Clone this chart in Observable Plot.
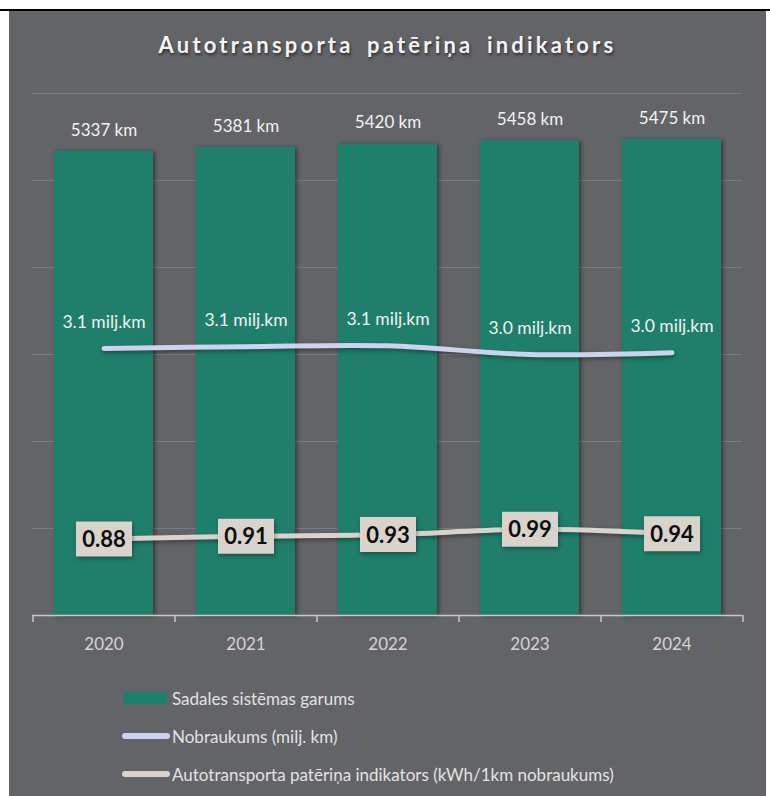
<!DOCTYPE html>
<html>
<head>
<meta charset="utf-8">
<script src="https://cdn.jsdelivr.net/npm/d3@7"></script>
<script src="https://cdn.jsdelivr.net/npm/@observablehq/plot@0.6"></script>
<style>
html,body{margin:0;padding:0;background:#fff;}
body{width:770px;height:796px;overflow:hidden;position:relative;font-family:Lato,"Open Sans",sans-serif;}
#topline{position:absolute;left:0;top:9px;width:770px;height:2px;background:#000;}
#panel{position:absolute;left:9px;top:11px;width:757px;height:785px;background:#636468;}
#title{height:65px;box-sizing:border-box;padding-top:22px;line-height:24px;text-align:center;color:#f4f4f4;font-size:22px;font-weight:700;letter-spacing:3.2px;word-spacing:5px;text-shadow:1px 2px 3px rgba(0,0,0,0.55);}
#chart svg{display:block;background:transparent;}
#legend{padding-top:9px;padding-left:113px;}
.item{height:38px;display:flex;align-items:center;color:#e2e2e2;font-size:17px;}
.sw{display:inline-block;margin-right:5px;}
.sw.rect{width:44px;height:12px;margin-left:1px;margin-right:5px;}
.sw.line{width:48px;height:6px;border-radius:3px;margin-right:2px;}
g[aria-label="bar"] rect{filter:drop-shadow(2px 1px 2px rgba(0,0,0,0.45));}
g[aria-label="line"] path{filter:drop-shadow(1px 2px 2px rgba(0,0,0,0.4));}
g[aria-label="dot"] path{filter:drop-shadow(1px 2px 2px rgba(0,0,0,0.35));}
</style>
</head>
<body>
<div id="topline"></div>
<div id="panel">
  <div id="title"></div>
  <div id="chart"></div>
  <div id="legend"></div>
</div>
<script>
// ---- data ----
const titleText = "Autotransporta patēriņa indikators";
const years = ["2020", "2021", "2022", "2023", "2024"];
const networkLengthKm = [5337, 5381, 5420, 5458, 5475];
const mileageMlnKm = [3.07, 3.09, 3.10, 3.00, 3.02];
const consumptionIndicator = [0.88, 0.91, 0.93, 0.99, 0.94];
const gridValues = [1000, 2000, 3000, 4000, 5000, 6000];
const seriesNames = [
  "Sadales sistēmas garums",
  "Nobraukums (milj. km)",
  "Autotransporta patēriņa indikators (kWh/1km nobraukums)"
];

// ---- styles ----
const colBar = "#1f7f6b";
const colMileage = "#cdd3ef";
const colCons = "#d9d3cb";

const rows = years.map((y, i) => ({
  year: y,
  length: networkLengthKm[i],
  mileage: mileageMlnKm[i],
  cons: consumptionIndicator[i]
}));

document.getElementById("title").textContent = titleText;

const W = 757, H = 594;
const mL = 23, mR = 24, mT = 17, mB = 55;
const step = (W - mL - mR) / years.length;
const secondary = 1000; // secondary axis 0..6 aligned with primary 0..6000
const tickLen = 7 * 6000 / (H - mT - mB);

const boxSymbol = {
  draw(ctx) {
    ctx.moveTo(-28, -17.5);
    ctx.lineTo(28, -17.5);
    ctx.lineTo(28, 17.5);
    ctx.lineTo(-28, 17.5);
    ctx.closePath();
  }
};

const chart = Plot.plot({
  width: W,
  height: H,
  marginLeft: mL,
  marginRight: mR,
  marginTop: mT,
  marginBottom: mB,
  style: {background: "transparent", fontFamily: "Lato, 'Open Sans', sans-serif", overflow: "visible"},
  x: {type: "band", domain: years, paddingInner: 0.305, paddingOuter: 0.1525, axis: null},
  y: {domain: [0, 6000], axis: null},
  marks: [
    Plot.ruleY(gridValues, {stroke: "#7b7c80", strokeWidth: 1}),
    Plot.barY(rows, {x: "year", y: "length", fill: colBar}),
    Plot.ruleY([0], {stroke: "#c9c9c9", strokeWidth: 1.5}),
    Plot.ruleX(years, {x: d => d, y1: 0, y2: -tickLen, dx: -step / 2, stroke: "#c9c9c9", strokeWidth: 1.5}),
    Plot.ruleX([years[years.length - 1]], {x: d => d, y1: 0, y2: -tickLen, dx: step / 2, stroke: "#c9c9c9", strokeWidth: 1.5}),
    Plot.axisX({tickSize: 0, tickPadding: 22, fontSize: 17, fill: "#d4d4d4", label: null}),
    Plot.text(rows, {x: "year", y: "length", text: d => `${d.length} km`, dy: -21, fill: "#f2f2f2", fontSize: 17}),
    Plot.line(rows, {x: "year", y: d => d.mileage * secondary, stroke: colMileage, strokeWidth: 5, curve: "catmull-rom", strokeLinecap: "round"}),
    Plot.text(rows, {x: "year", y: d => d.mileage * secondary, text: d => `${d.mileage.toFixed(1)} milj.km`, dy: -26, fill: "#f0f3f1", fontSize: 17.5}),
    Plot.line(rows, {x: "year", y: d => d.cons * secondary, stroke: colCons, strokeWidth: 5, curve: "catmull-rom", strokeLinecap: "round"}),
    Plot.dot(rows, {x: "year", y: d => d.cons * secondary, symbol: boxSymbol, r: 10, fill: colCons, stroke: "none"}),
    Plot.text(rows, {x: "year", y: d => d.cons * secondary, text: d => d.cons.toFixed(2), fill: "#0d0d0d", fontSize: 22, fontWeight: "bold", dy: 1})
  ]
});
document.getElementById("chart").appendChild(chart);

// ---- legend ----
const legend = document.getElementById("legend");
const swatches = [
  {cls: "rect", color: colBar},
  {cls: "line", color: colMileage},
  {cls: "line", color: colCons}
];
seriesNames.forEach((name, i) => {
  const item = document.createElement("div");
  item.className = "item";
  const sw = document.createElement("span");
  sw.className = "sw " + swatches[i].cls;
  sw.style.background = swatches[i].color;
  const t = document.createElement("span");
  t.textContent = name;
  item.appendChild(sw);
  item.appendChild(t);
  legend.appendChild(item);
});
</script>
</body>
</html>
